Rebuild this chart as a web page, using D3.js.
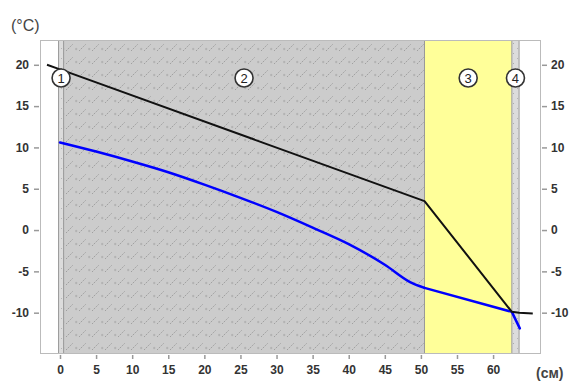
<!DOCTYPE html>
<html>
<head>
<meta charset="utf-8">
<script src="https://cdn.jsdelivr.net/npm/d3@7"></script>
<style>
  body { margin: 0; background: #fff; }
  svg { display: block; font-family: "Liberation Sans", Arial, sans-serif; }
</style>
</head>
<body>
<svg id="chart" width="570" height="381"></svg>
<script>
// layer boundaries (cm) and labels
const layerEdges = [-0.2, 0.5, 50.5, 62.6, 63.6];
const layerNames = ['1', '2', '3', '4'];
const layerKinds = ['plaster', 'hatch', 'yellow', 'plaster'];

// temperature line (black)
const tempX = [-1.8, -0.2, 0.5, 50.5, 62.6, 63.6, 65.5];
const tempY = [20.0, 19.5, 19.3, 3.5, -9.9, -10.0, -10.1];

// dew point line (blue)
const dewX = [0, 5, 10, 15, 20, 25, 30, 35, 40, 45, 48.5, 50.5, 62.6, 63.7];
const dewY = [10.6, 9.5, 8.3, 7.0, 5.5, 3.9, 2.2, 0.3, -1.7, -4.2, -6.3, -7.0, -9.9, -11.9];

const xTicks = d3.range(0, 61, 5);
const yTicks = d3.range(-10, 21, 5);

const svg = d3.select('#chart');
const x = d3.scaleLinear().domain([-2.77, 66.5]).range([40, 540]);
const y = d3.scaleLinear().domain([-15, 23]).range([354, 40]);

const defs = svg.append('defs');
const hatch = defs.append('pattern')
  .attr('id', 'hatch').attr('patternUnits', 'userSpaceOnUse')
  .attr('width', 13).attr('height', 13);
hatch.append('rect').attr('width', 13).attr('height', 13).attr('fill', '#cccccc');
hatch.append('path').attr('d', 'M1,12L8,5')
  .attr('stroke', '#a0a0a0').attr('stroke-width', 1).attr('stroke-dasharray', '1.6,1');
hatch.append('path').attr('d', 'M10,10h2.4M11.2,8.8v2.4').attr('stroke', '#aaa').attr('stroke-width', 0.8);

const plaster = defs.append('pattern')
  .attr('id', 'plaster').attr('patternUnits', 'userSpaceOnUse')
  .attr('width', 6).attr('height', 10);
plaster.append('rect').attr('width', 6).attr('height', 10).attr('fill', '#dcdcdc');
plaster.append('rect').attr('x', 3).attr('y', 3).attr('width', 1).attr('height', 1).attr('fill', '#aaa');
plaster.append('rect').attr('x', 1).attr('y', 8).attr('width', 1).attr('height', 1).attr('fill', '#b5b5b5');

const fills = { plaster: 'url(#plaster)', hatch: 'url(#hatch)', yellow: '#ffff99' };

const layers = layerNames.map((n, i) => ({ name: n, x0: layerEdges[i], x1: layerEdges[i + 1], kind: layerKinds[i] }));

// frame
svg.append('rect').attr('x', 40).attr('y', 40).attr('width', 500).attr('height', 314)
  .attr('fill', '#fff');

svg.selectAll('.layer').data(layers).enter().append('rect')
  .attr('class', 'layer')
  .attr('x', d => x(d.x0)).attr('y', 40)
  .attr('width', d => x(d.x1) - x(d.x0)).attr('height', 314)
  .attr('fill', d => fills[d.kind]);

svg.selectAll('.edge').data(layerEdges).enter().append('line')
  .attr('x1', d => x(d)).attr('x2', d => x(d)).attr('y1', 40).attr('y2', 354)
  .attr('stroke', '#999').attr('stroke-width', 1);

svg.append('rect').attr('x', 40.5).attr('y', 40.5).attr('width', 500).attr('height', 313)
  .attr('fill', 'none').attr('stroke', '#bbb').attr('stroke-width', 1);

// axes
const tickColor = '#999';
const labelColor = '#333';
const fmt = d => String(d);
const xAxis = svg.append('g').attr('transform', 'translate(0,355)')
  .call(d3.axisBottom(x).tickValues(xTicks).tickFormat(fmt).tickSize(4).tickPadding(6));
const yLeft = svg.append('g').attr('transform', 'translate(39,0)')
  .call(d3.axisLeft(y).tickValues(yTicks).tickFormat(fmt).tickSize(5).tickPadding(5));
const yRight = svg.append('g').attr('transform', 'translate(542,0)')
  .call(d3.axisRight(y).tickValues(yTicks).tickFormat(fmt).tickSize(5).tickPadding(4));
[xAxis, yLeft, yRight].forEach(g => {
  g.select('.domain').remove();
  g.selectAll('line').attr('stroke', tickColor).attr('stroke-width', 1.5);
  g.selectAll('text').attr('fill', labelColor).attr('font-size', 12).attr('font-weight', 'bold')
    .attr('font-family', '"Liberation Sans", Arial, sans-serif');
});

svg.append('text').attr('x', 11).attr('y', 31).text('(°C)')
  .attr('font-size', 16).attr('fill', '#444');
svg.append('text').attr('x', 536).attr('y', 378).text('(см)')
  .attr('font-size', 14).attr('font-weight', 'bold').attr('fill', '#444');

// lines
const pts = d3.zip(dewX, dewY);
const split = dewX.indexOf(50.5);
const curved = d3.line().x(d => x(d[0])).y(d => y(d[1])).curve(d3.curveMonotoneX);
const line = d3.line().x(d => x(d[0])).y(d => y(d[1]));
svg.append('path').datum(pts.slice(0, split + 1))
  .attr('fill', 'none').attr('stroke', '#0000ff').attr('stroke-width', 2.5)
  .attr('stroke-linecap', 'round').attr('d', curved);
svg.append('path').datum(pts.slice(split))
  .attr('fill', 'none').attr('stroke', '#0000ff').attr('stroke-width', 2.5)
  .attr('stroke-linejoin', 'round').attr('stroke-linecap', 'round').attr('d', line);
svg.append('path').datum(d3.zip(tempX, tempY))
  .attr('fill', 'none').attr('stroke', '#111').attr('stroke-width', 2)
  .attr('stroke-linejoin', 'round').attr('d', line);

// layer number badges
const badge = svg.selectAll('.badge').data(layers).enter().append('g')
  .attr('transform', d => `translate(${x((d.x0 + d.x1) / 2)},78)`);
badge.append('circle').attr('r', 9).attr('fill', '#fff').attr('stroke', '#333').attr('stroke-width', 1.6);
badge.append('text').text(d => d.name).attr('text-anchor', 'middle').attr('dy', '0.36em')
  .attr('font-size', 13).attr('fill', '#222');
</script>
</body>
</html>
